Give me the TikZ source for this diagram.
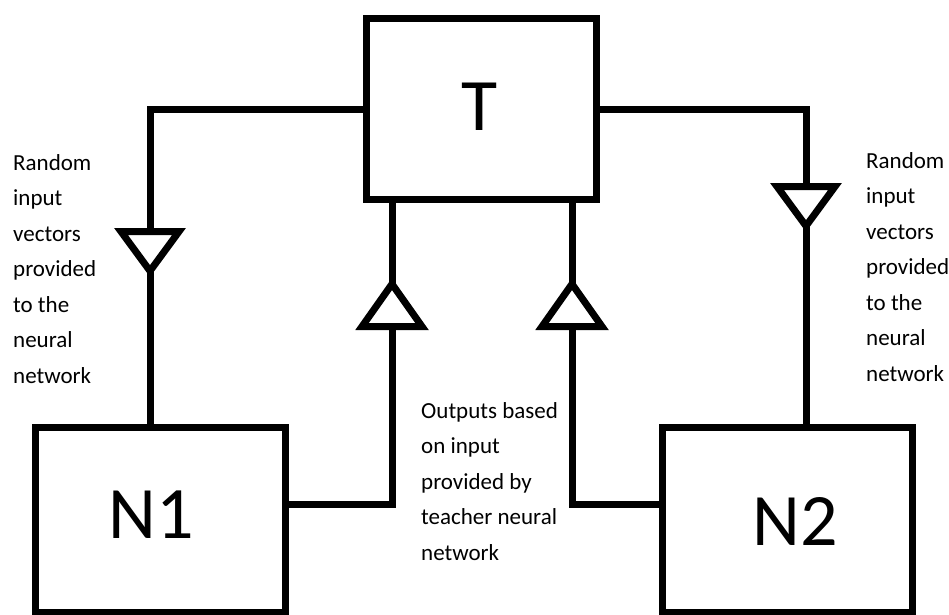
\documentclass[tikz,border=0pt]{standalone}
\usepackage{fontspec}
\setmainfont{Carlito}
\begin{document}
\begin{tikzpicture}[x=1pt,y=-1pt,
  box/.style={draw=black,line width=7pt,fill=white,inner sep=0pt},
  wire/.style={draw=black,line width=7pt},
  tri/.style={draw=black,line width=7pt,fill=white,line join=miter},
  big/.style={font=\fontsize{74}{74}\selectfont,inner sep=0pt},
  txt/.style={font=\fontsize{23}{35.5}\selectfont,align=left,inner sep=0pt,anchor=north west}]
\useasboundingbox[fill=white] (0,0) rectangle (949,614);
% boxes
\node[box,minimum width=230pt,minimum height=181pt] (T) at (481.5,109) {};
\node[box,minimum width=250pt,minimum height=185pt] (N1) at (160,519.5) {};
\node[box,minimum width=250pt,minimum height=185pt] (N2) at (787,519.5) {};
% labels
\node[big] (Tl) at (480,106.5) {T};
\node[big] (N1l) at (151.5,515) {N1};
\node[big] (N2l) at (795,521) {N2};
% connectors
\draw[wire] (T.west) -| ([xshift=-10pt]N1.north);
\draw[wire] (T.east) -| ([xshift=19pt]N2.north);
\draw[wire] ([yshift=15.5pt]N1.east) -| ([xshift=-89.5pt]T.south);
\draw[wire] ([yshift=15.5pt]N2.west) -| ([xshift=90.5pt]T.south);
% triangles
\draw[tri] (121,231.5) -- (179,231.5) -- (150,271) -- cycle;
\draw[tri] (777,186.5) -- (835,186.5) -- (806,226) -- cycle;
\draw[tri] (362,326.5) -- (422,326.5) -- (392,284) -- cycle;
\draw[tri] (542,326.5) -- (602,326.5) -- (572,284) -- cycle;
% texts
\node[txt] (lt) at (13,154) {Random\\input\\vectors\\provided\\to the\\neural\\network};
\node[txt] (rt) at (866,152) {Random\\input\\vectors\\provided\\to the\\neural\\network};
\node[txt] (mt) at (421,402) {Outputs based\\on input\\provided by\\teacher neural\\network};
\end{tikzpicture}
\end{document}
